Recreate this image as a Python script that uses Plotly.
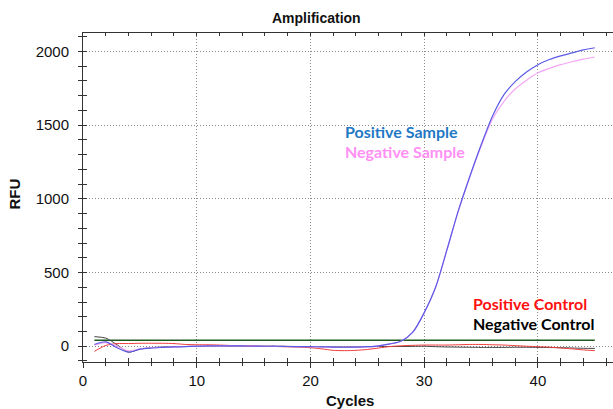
import plotly.graph_objects as go

cycles = list(range(1, 46))

positive_sample = [12, 30, -10, -40, -20, -12, -8, -5, -3, 0,
                   2, 3, 2, 2, 1, 0, 0, -2, -3, -3,
                   -4, -6, -7, -6, -3, 3, 16, 36, 95, 228,
                   400, 655, 920, 1150, 1365, 1560, 1705, 1795, 1860, 1910,
                   1945, 1970, 1990, 2010, 2025]

negative_sample = [8, 25, 0, -32, -18, -10, -7, -4, -2, 0,
                   2, 3, 2, 2, 1, 0, 0, -2, -3, -3,
                   -4, -6, -7, -6, -3, 3, 16, 36, 95, 226,
                   398, 652, 915, 1145, 1355, 1540, 1660, 1745, 1805, 1855,
                   1885, 1910, 1930, 1948, 1962]

positive_control = [-35, 5, 18, 18, 20, 20, 20, 18, 12, 10,
                    10, 8, 5, 3, 2, 0, -2, -4, -6, -10,
                    -18, -28, -30, -28, -22, -12, -2, 3, 6, 8,
                    8, 8, 10, 12, 12, 10, 8, 4, 0, -3,
                    -6, -12, -18, -25, -30]

negative_control = [65, 55, 10, -40, -20, -10, -5, -3, -2, 0,
                    1, 2, 1, 1, 0, 0, 0, -1, -2, -2,
                    -3, -4, -5, -4, -3, -2, -2, -2, -1, 0,
                    -3, -5, -6, -7, -8, -8, -8, -7, -7, -8,
                    -9, -10, -12, -14, -15]

threshold_cycles = [1, 45]
threshold_value = [40, 40]

x_range = [0, 46.6]
y_range = [-107, 2125]

fig = go.Figure()

fig.add_trace(go.Scatter(x=threshold_cycles, y=threshold_value, mode="lines",
                         line=dict(color="#1e5a1e", width=1.5), hoverinfo="skip"))
fig.add_trace(go.Scatter(x=cycles, y=negative_control, mode="lines",
                         line=dict(color="#444444", width=1, shape="spline", smoothing=0.8)))
fig.add_trace(go.Scatter(x=cycles, y=positive_control, mode="lines",
                         line=dict(color="#f03c3c", width=1, shape="spline", smoothing=0.8)))
fig.add_trace(go.Scatter(x=cycles, y=negative_sample, mode="lines",
                         line=dict(color="#f4a6f4", width=1.2, shape="spline", smoothing=0.8)))
fig.add_trace(go.Scatter(x=cycles, y=positive_sample, mode="lines",
                         line=dict(color="#5a5ae6", width=1.2, shape="spline", smoothing=0.8)))

# empty helper traces so the overlay axes (cross ticks, top frame) are drawn
fig.add_trace(go.Scatter(x=[], y=[], xaxis="x2", yaxis="y", hoverinfo="skip"))
fig.add_trace(go.Scatter(x=[], y=[], xaxis="x3", yaxis="y", hoverinfo="skip"))
fig.add_trace(go.Scatter(x=[], y=[], xaxis="x", yaxis="y2", hoverinfo="skip"))

axis_font = dict(family="Liberation Sans, Arial, sans-serif", size=15, color="#111111")
grid = dict(showgrid=True, gridcolor="#8a8a8a", gridwidth=1, griddash="1px,2px")

fig.update_layout(
    width=613, height=409,
    margin=dict(l=83, r=0, t=33, b=47),
    paper_bgcolor="white", plot_bgcolor="white",
    showlegend=False,
    xaxis=dict(range=x_range, dtick=10, tick0=0, showline=True, linecolor="#333333",
               linewidth=1, ticks="outside", ticklen=5, tickcolor="#333333",
               tickfont=axis_font, zeroline=False,
               minor=dict(dtick=2, tick0=0, ticks="outside", ticklen=3, tickcolor="#333333",
                          showgrid=False),
               **grid),
    xaxis2=dict(range=x_range, overlaying="x", anchor="y", side="bottom",
                dtick=10, tick0=0, ticks="inside", ticklen=5, tickcolor="#333333",
                showticklabels=False, showgrid=False, zeroline=False, showline=False,
                minor=dict(dtick=2, tick0=0, ticks="inside", ticklen=4, tickcolor="#333333")),
    xaxis3=dict(range=x_range, overlaying="x", anchor="y", side="top",
                dtick=2, tick0=0, ticks="inside", ticklen=3, tickcolor="#333333",
                showticklabels=False, showgrid=False, zeroline=False,
                showline=True, linecolor="#333333", linewidth=1),
    yaxis=dict(range=y_range, dtick=500, tick0=0, showline=True, linecolor="#333333",
               linewidth=1, ticks="outside", ticklen=4, tickcolor="#333333",
               tickfont=axis_font, zeroline=False, ticklabelstandoff=6,
               minor=dict(dtick=100, tick0=0, ticks="outside", ticklen=4, tickcolor="#333333",
                          showgrid=False),
               **grid),
    yaxis2=dict(range=y_range, overlaying="y", anchor="x", side="left",
                dtick=500, tick0=0, ticks="inside", ticklen=4, tickcolor="#333333",
                showticklabels=False, showgrid=False, zeroline=False, showline=False,
                minor=dict(dtick=100, tick0=0, ticks="inside", ticklen=4, tickcolor="#333333")),
)

label_font = "Lato, Carlito, Calibri, sans-serif"
annotations = [
    dict(text="<b>Amplification</b>", xref="paper", yref="paper",
         x=(316 - 83) / 530, y=(361.7 - 18.7) / 328.4, xanchor="center", yanchor="middle",
         showarrow=False, font=dict(family="Liberation Sans, Arial, sans-serif", size=14, color="#111111")),
    dict(text="<b>RFU</b>", xref="paper", yref="paper", textangle=-90,
         x=(14.5 - 83) / 530, y=(361.7 - 194) / 328.4, xanchor="center", yanchor="middle",
         showarrow=False, font=dict(family="Liberation Sans, Arial, sans-serif", size=15, color="#111111")),
    dict(text="<b>Cycles</b>", xref="paper", yref="paper",
         x=(349.5 - 83) / 530, y=(361.7 - 400) / 328.4, xanchor="center", yanchor="middle",
         showarrow=False, font=dict(family="Liberation Sans, Arial, sans-serif", size=15, color="#111111")),
    dict(text="<b>Positive Sample</b>", x=22.9, y=1456, xanchor="left", yanchor="middle",
         showarrow=False, font=dict(family=label_font, size=16, color="#1f78c4")),
    dict(text="<b>Negative Sample</b>", x=22.9, y=1318, xanchor="left", yanchor="middle",
         showarrow=False, font=dict(family=label_font, size=16, color="#ff90f4")),
    dict(text="<b>Positive Control</b>", x=34.1, y=292, xanchor="left", yanchor="middle",
         showarrow=False, font=dict(family=label_font, size=16, color="#ff1010")),
    dict(text="<b>Negative Control</b>", x=34.1, y=154, xanchor="left", yanchor="middle",
         showarrow=False, font=dict(family=label_font, size=16, color="#000000")),
]
fig.update_layout(annotations=annotations)

fig.write_html("out.html")
